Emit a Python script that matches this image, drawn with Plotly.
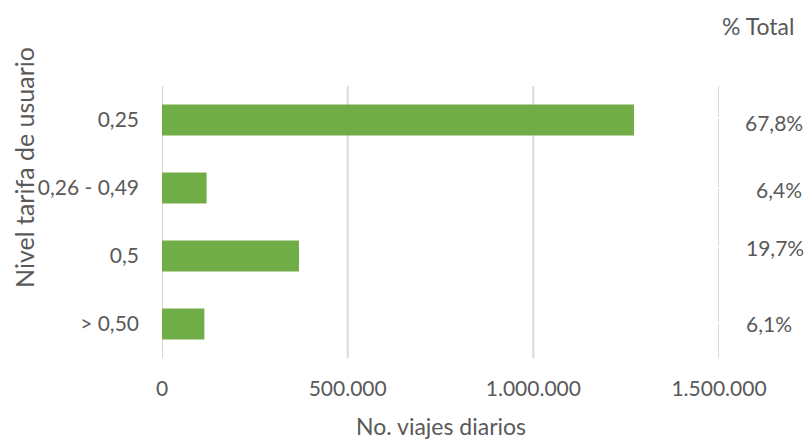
import plotly.graph_objects as go

# Daily trips by user fare level
categories = ["0,25", "0,26 - 0,49", "0,5", "> 0,50"]
trips = [1271000, 120000, 369000, 114000]
x_ticks = [0, 500000, 1000000, 1500000]
x_tick_labels = ["0", "500.000", "1.000.000", "1.500.000"]

total = sum(trips)
shares = [v / total * 100 for v in trips]
share_labels = [f"{s:.1f}".replace(".", ",") + "%" for s in shares]

FONT = "Lato"
TXT = "#595959"
GRID = "#d9d9d9"
GREEN = "#70AD47"

W, H = 808, 440
L, R, T, B = 162, 89, 86, 82
plot_w = W - L - R
plot_h = H - T - B


def py(pixel_y):
    """Convert a page y pixel to paper units."""
    return 1 - (pixel_y - T) / plot_h


def px(pixel_x):
    """Convert a page x pixel to paper units."""
    return (pixel_x - L) / plot_w


fig = go.Figure()
fig.add_trace(go.Bar(
    y=categories, x=trips, orientation="h",
    marker=dict(color=GREEN, line=dict(width=0)),
    width=0.455,
))

fig.update_layout(
    width=W, height=H,
    margin=dict(l=L, r=R, t=T, b=B),
    paper_bgcolor="white", plot_bgcolor="white",
    showlegend=False,
    font=dict(family=FONT, size=21, color=TXT),
    xaxis=dict(
        range=[0, 1500000], tickvals=x_ticks, ticktext=x_tick_labels,
        showgrid=False, zeroline=False, showline=False, ticks="",
        ticklabelstandoff=16, fixedrange=True,
    ),
    yaxis=dict(
        autorange="reversed", showgrid=False, zeroline=False,
        showline=False, ticks="", ticklabelstandoff=22,
    ),
)

# Vertical gridlines, drawn beneath the bars
for v in x_ticks[:-1]:
    fig.add_shape(type="line", xref="x", yref="paper", x0=v, x1=v,
                  y0=0, y1=1, layer="below",
                  line=dict(color=GRID, width=2))
# Last gridline doubles as the border of the share column (broken at rows)
breaks = [86, 117, 119, 187, 189, 246, 248, 322, 324, 358]
for a, b in zip(breaks[0::2], breaks[1::2]):
    fig.add_shape(type="line", xref="x", yref="paper",
                  x0=x_ticks[-1], x1=x_ticks[-1], y0=py(b), y1=py(a),
                  layer="below", line=dict(color=GRID, width=2))

# Axis titles
fig.add_annotation(text="No. viajes diarios", xref="paper", yref="paper",
                   x=0.5, y=py(426), showarrow=False,
                   xanchor="center", yanchor="middle", font=dict(size=23, color=TXT))
fig.add_annotation(text="Nivel tarifa de usuario", xref="paper", yref="paper",
                   x=px(24), y=py(168),
                   showarrow=False, textangle=-90, xanchor="center",
                   yanchor="middle", font=dict(size=25, color=TXT))

# Share column
fig.add_annotation(text="% Total", xref="paper", yref="paper",
                   x=px(758), y=py(26),
                   showarrow=False, xanchor="center", yanchor="middle",
                   font=dict(size=23, color=TXT))
label_x = [774, 779, 775, 769]
label_shift = [-2, -1, 9, 1]
for cat, lab, lx, dy in zip(categories, share_labels, label_x, label_shift):
    fig.add_annotation(text=lab, xref="paper", yref="y", x=px(lx),
                       y=cat, yshift=dy, showarrow=False, xanchor="center",
                       yanchor="middle", font=dict(size=21, color=TXT))

fig.write_html("out.html")
